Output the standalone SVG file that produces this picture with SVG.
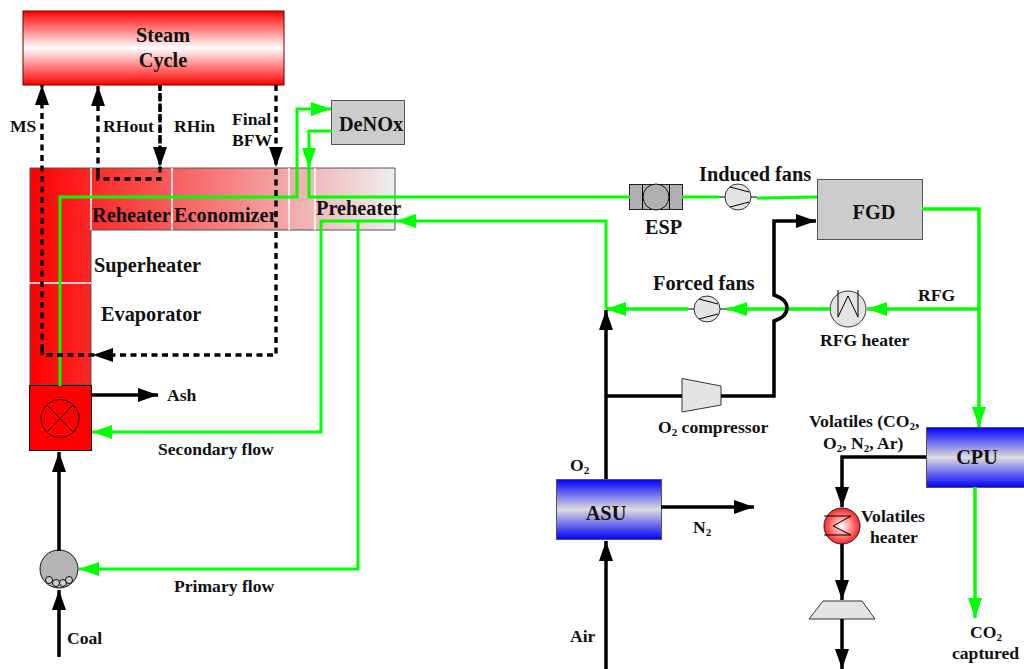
<svg xmlns="http://www.w3.org/2000/svg" width="1024" height="669" viewBox="0 0 1024 669">
<style>
text{font-family:"Liberation Serif","Times New Roman",serif;font-weight:bold;fill:#111;font-size:17.6px}
.l{font-size:20.3px}
.s{font-size:11px}
.box{stroke:#555;stroke-width:1}
.g{fill:none;stroke:#0f0;stroke-width:3.5}
.g3{fill:none;stroke:#0f0;stroke-width:3}
.k{fill:none;stroke:#000;stroke-width:3.5}
.d{fill:none;stroke:#000;stroke-width:3.4;stroke-dasharray:6 4.500}
.w{stroke:#fff;stroke-width:1.500;fill:none}
.t{stroke:#000;stroke-width:1;fill:none}
.f{fill:#e4e4e4;stroke:#333;stroke-width:1}
</style>
<defs>
<linearGradient id="red" x1="0" y1="0" x2="0" y2="1"><stop offset="0" stop-color="#f00"/><stop offset=".5" stop-color="#fff"/><stop offset="1" stop-color="#f00"/></linearGradient>
<linearGradient id="blue" x1="0" y1="0" x2="0" y2="1"><stop offset="0" stop-color="#00f"/><stop offset=".5" stop-color="#ddd"/><stop offset="1" stop-color="#00f"/></linearGradient>
<linearGradient id="band" gradientUnits="userSpaceOnUse" x1="30" y1="0" x2="395" y2="0"><stop offset="0" stop-color="#f00"/><stop offset="1" stop-color="#eee"/></linearGradient>
<radialGradient id="rad"><stop offset="0" stop-color="#fff"/><stop offset="1" stop-color="#f22"/></radialGradient>
<marker id="ak" markerUnits="userSpaceOnUse" markerWidth="20" markerHeight="14" refX="20" refY="7" orient="auto"><path d="M0 0L20 7L0 14Z" fill="#000"/></marker>
<marker id="ag" markerUnits="userSpaceOnUse" markerWidth="20" markerHeight="14" refX="20" refY="7" orient="auto"><path d="M0 0L20 7L0 14Z" fill="#0f0"/></marker>
</defs>

<g id="steam-cycle"><rect class="box" x="23" y="11" width="261" height="74" fill="url(#red)" style="stroke:#600"/><text class="l" x="163" y="42" text-anchor="middle">Steam</text><text class="l" x="163" y="67" text-anchor="middle">Cycle</text></g>

<g id="boiler">
<path class="box" d="M30 168H395V230H91V385H30Z" fill="url(#band)"/>
<path class="w" d="M91 168V230M172 168V230M289 168V230M315 168V230M29 283H91"/>
</g>
<g id="furnace"><rect x="29.500" y="385.500" width="62" height="65" fill="#f00" stroke="#111"/><circle class="t" cx="60" cy="418.500" r="19"/><path class="t" d="M47 405L73 432M73 405L47 432"/></g>
<g id="mill"><circle cx="59" cy="569" r="19" fill="#b4b4b4" stroke="#111"/><g fill="#ccc" stroke="#111"><circle cx="49" cy="580" r="3.500"/><circle cx="56" cy="583" r="3.500"/><circle cx="63" cy="583" r="3.500"/><circle cx="69" cy="580" r="3.500"/></g></g>
<g id="denox"><rect class="box" x="331.500" y="100.500" width="73" height="44" fill="#ccc"/><text class="l" x="371" y="131" text-anchor="middle">DeNOx</text></g>
<g id="esp"><rect x="629.500" y="184.500" width="53" height="25" fill="#b0b0b0" stroke="#222"/><path class="t" d="M642.500 184V209M669.500 184V209"/><circle cx="656" cy="197" r="13" fill="#b0b0b0" stroke="#111"/></g>
<g id="induced-fan"><circle class="f" cx="738" cy="197" r="13"/><path class="t" d="M730 187L749 192M730 207L749 202M719 197H725M751 197H757"/></g>
<g id="fgd"><rect class="box" x="817.500" y="179.500" width="105" height="60" fill="#ccc"/><text class="l" x="874" y="219" text-anchor="middle">FGD</text></g>
<g id="forced-fan"><circle class="f" cx="707" cy="309" r="13"/><path class="t" d="M699 299L718 304M699 319L718 314M688 309H694M720 309H727"/></g>
<g id="rfg-heater"><circle class="f" cx="848" cy="309" r="18"/><path class="t" d="M838 290V317L848 296L858 317V290"/></g>
<g id="o2-compressor"><path class="f" d="M682 378.500L721 386V405L682 412Z"/></g>
<g id="asu"><rect class="box" x="556.500" y="479.500" width="105" height="60" fill="url(#blue)"/><text class="l" x="606" y="520" text-anchor="middle">ASU</text></g>
<g id="cpu"><rect class="box" x="926.500" y="427.500" width="98" height="60" fill="url(#blue)"/><text class="l" x="977" y="464" text-anchor="middle">CPU</text></g>
<g id="volatiles-heater"><circle cx="842" cy="526" r="18" fill="url(#rad)" stroke="#222"/><path class="t" d="M824 516H851L833 526L851 535H824"/></g>
<g id="expander"><path class="f" d="M809 619L823 601H862L875 619Z"/></g>

<g id="connectors">
<path class="g3" d="M60 386V197H297V109H331" marker-end="url(#ag)"/>
<path class="g3" d="M332 131H309V168" marker-end="url(#ag)"/>
<path class="g3" d="M309 168V197H630M682 197H719M757 198L817 197"/>
<path class="g3" d="M606 309V221H321V432H92" marker-end="url(#ag)"/>
<path d="M396 221L416 214V228Z" fill="#0f0"/>
<path class="g3" d="M358 222V569H79" marker-end="url(#ag)"/>
<path class="g" d="M922 209H979V427" marker-end="url(#ag)"/>
<path class="g" d="M979 309H867" marker-end="url(#ag)"/>
<path class="g" d="M830 309H727" marker-end="url(#ag)"/>
<path class="g" d="M688 309H606" marker-end="url(#ag)"/>
<path class="g" d="M975 487V618" marker-end="url(#ag)"/>
<path class="d" d="M42 350V85" marker-end="url(#ak)"/>
<path class="d" d="M98 174V86" marker-end="url(#ak)"/>
<path class="d" d="M98 174V179H160V85"/>
<path class="d" d="M160 85V167" marker-end="url(#ak)"/>
<path class="d" d="M276 85V355H42V348"/>
<path d="M269 147H283L276 167Z" fill="#000"/>
<path d="M93 355L113 348V362Z" fill="#000"/>
<path class="k" d="M91 395H158" marker-end="url(#ak)"/>
<path class="k" d="M59 551V452" marker-end="url(#ak)"/>
<path class="k" d="M59 657V590" marker-end="url(#ak)"/>
<path class="k" d="M606 479V310" marker-end="url(#ak)"/>
<path class="k" d="M606 396H682"/>
<path class="k" d="M721 396H774V321C780 319 787 315 787 308C787 301 780 297 774 295V221H816" marker-end="url(#ak)"/>
<path class="k" d="M661 507H754" marker-end="url(#ak)"/>
<path class="k" d="M606 669V541" marker-end="url(#ak)"/>
<path class="k" d="M926 457H842V507" marker-end="url(#ak)"/>
<path class="k" d="M842 544V600" marker-end="url(#ak)"/>
<path class="k" d="M842 619V669" marker-end="url(#ak)"/>
</g>

<g id="labels">
<text x="10" y="132">MS</text>
<text x="103" y="132">RHout</text>
<text x="174" y="132">RHin</text>
<text x="232" y="125">Final</text>
<text x="232" y="146">BFW</text>
<text class="l" x="92" y="222">Reheater</text>
<text class="l" x="174" y="222">Economizer</text>
<text class="l" x="316" y="215">Preheater</text>
<text class="l" x="94" y="272">Superheater</text>
<text class="l" x="101" y="321">Evaporator</text>
<text x="167" y="401">Ash</text>
<text x="158" y="455">Secondary flow</text>
<text x="174" y="592">Primary flow</text>
<text x="67" y="644">Coal</text>
<text class="l" x="699" y="181">Induced fans</text>
<text class="l" x="645" y="234">ESP</text>
<text class="l" x="653" y="290">Forced fans</text>
<text x="918" y="301">RFG</text>
<text x="820" y="346">RFG heater</text>
<text x="658" y="433">O<tspan class="s" dy="3">2</tspan><tspan dy="-3"> compressor</tspan></text>
<text x="809" y="427">Volatiles (CO<tspan class="s" dy="3">2</tspan><tspan dy="-3">,</tspan></text>
<text x="823" y="449">O<tspan class="s" dy="3">2</tspan><tspan dy="-3">, N</tspan><tspan class="s" dy="3">2</tspan><tspan dy="-3">, Ar)</tspan></text>
<text x="570" y="471">O<tspan class="s" dy="3">2</tspan></text>
<text x="693" y="533">N<tspan class="s" dy="3">2</tspan></text>
<text x="861" y="522">Volatiles</text>
<text x="870" y="543">heater</text>
<text x="570" y="642">Air</text>
<text x="970" y="638">CO<tspan class="s" dy="3">2</tspan></text>
<text x="952" y="659">captured</text>
</g>
</svg>
